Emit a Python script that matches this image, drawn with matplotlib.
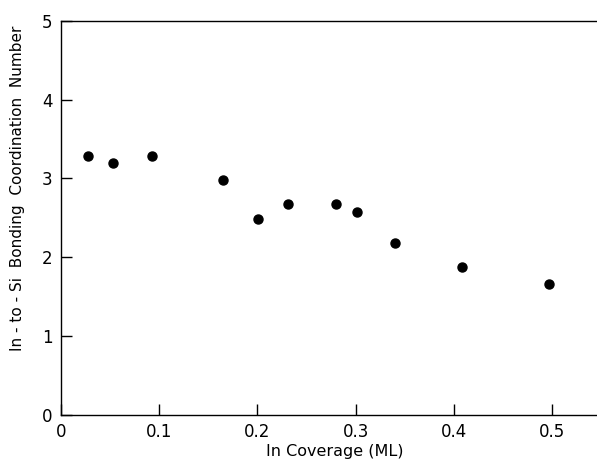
import matplotlib
matplotlib.use('Agg')
import matplotlib.pyplot as plt

coverage = [0.028, 0.053, 0.093, 0.165, 0.201, 0.231, 0.280, 0.301, 0.340, 0.408, 0.497]
coord_num = [3.28, 3.19, 3.28, 2.98, 2.48, 2.67, 2.67, 2.57, 2.18, 1.87, 1.66]

x_ticks = [0, 0.1, 0.2, 0.3, 0.4, 0.5]
x_tick_labels = ['0', '0.1', '0.2', '0.3', '0.4', '0.5']
y_ticks = [0, 1, 2, 3, 4, 5]

fig = plt.figure(figsize=(5.97, 4.63), dpi=100)
ax = fig.add_axes([0.102, 0.104, 0.9, 0.851])

ax.plot(coverage, coord_num, 'o', color='black', markersize=6.5)

ax.set_xlim(0, 0.547)
ax.set_ylim(0, 5)
ax.set_xticks(x_ticks)
ax.set_xticklabels(x_tick_labels)
ax.set_yticks(y_ticks)
ax.tick_params(direction='in', length=8, width=1, labelsize=12, pad=6)
ax.spines['right'].set_visible(False)
for s in ['left', 'bottom', 'top']:
    ax.spines[s].set_linewidth(1)

ax.set_xlabel('In Coverage (ML)', fontsize=11.5)
ax.set_ylabel('In - to - Si  Bonding  Coordination  Number', fontsize=11)
# label positions in axes fraction, nudged to match the original
ax.xaxis.set_label_coords(0.51, -0.075)
ax.yaxis.set_label_coords(-0.066, 0.575)

fig.savefig('out.png', dpi=100)
